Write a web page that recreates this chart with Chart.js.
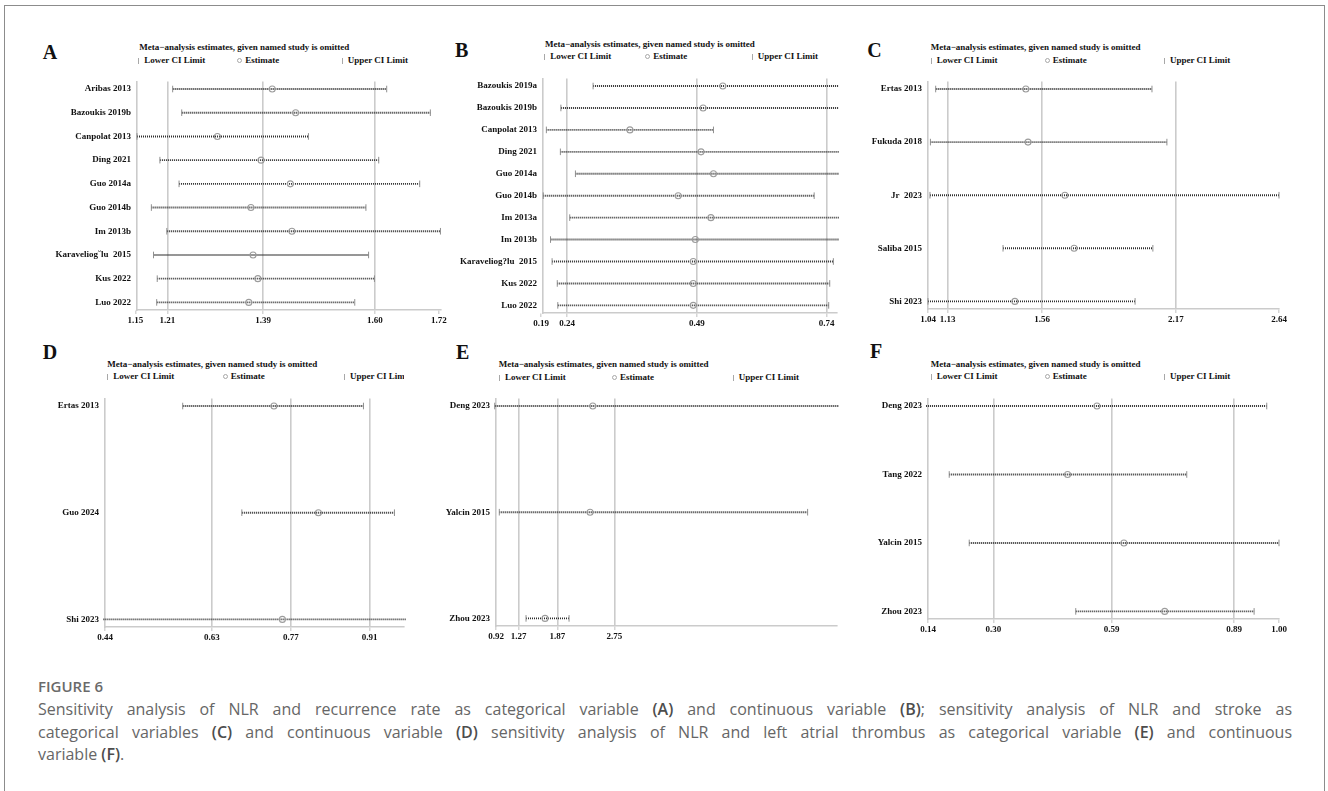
<!DOCTYPE html>
<html lang="en">
<head>
<meta charset="UTF-8">
<title>Figure 6 - sensitivity analysis</title>
<script src="https://cdn.jsdelivr.net/npm/chart.js"></script>
<style>
  body { margin:0; width:1328px; height:791px; background:#fff; position:relative; overflow:hidden;
         font-family:"Liberation Serif","Times New Roman",serif; color:#111; }
  .frame { position:absolute; left:4px; top:5px; width:1321px; height:800px; border:1px solid #8c8c8c; border-bottom:none; box-sizing:border-box; }
  .abs { position:absolute; white-space:nowrap; }
  .letter { font-weight:bold; font-size:20px; line-height:20px; }
  .title { font-weight:bold; font-size:9px; line-height:11px; }
  .legend { font-weight:bold; font-size:9px; line-height:11px; height:11px; overflow:hidden; }
  .legend .item { position:absolute; top:0; white-space:nowrap; }
  .sym-cap { display:inline-block; width:1px; height:6px; background:#a8a8a8; margin-right:5px; vertical-align:-1px; }
  .sym-dot { display:inline-block; width:3px; height:3px; border:1px solid #a8a8a8; border-radius:50%; margin-right:3px; vertical-align:0; }
  canvas { position:absolute; }
  .figno { position:absolute; left:38px; top:677px; font:600 15px/18px "Open Sans",sans-serif; color:#6a6a6a; }
  .cap-line { position:absolute; left:38px; width:1254px; font:16px/22px "Open Sans",sans-serif; color:#666; }
  .just { text-align:justify; text-align-last:justify; }
  .cap-line b { font-weight:600; color:#4d4d4d; }
</style>
</head>
<body>
<div class="frame"></div>

<div class="figno">FIGURE 6</div>
<div class="cap-line just" style="top:698px">Sensitivity analysis of NLR and recurrence rate as categorical variable <b>(A)</b> and continuous variable <b>(B)</b>; sensitivity analysis of NLR and stroke as</div>
<div class="cap-line just" style="top:721px">categorical variables <b>(C)</b> and continuous variable <b>(D)</b> sensitivity analysis of NLR and left atrial thrombus as categorical variable <b>(E)</b> and continuous</div>
<div class="cap-line" style="top:743px">variable <b>(F)</b>.</div>

<script>
// ---- A: recurrence, categorical ----
const studiesA = ['Aribas 2013', 'Bazoukis 2019b', 'Canpolat 2013', 'Ding 2021', 'Guo 2014a', 'Guo 2014b',
                  'Im 2013b', 'Karaveliog\u02D8lu  2015', 'Kus 2022', 'Luo 2022'];
const lowerA = [1.220, 1.237, 1.153, 1.196, 1.232, 1.180, 1.209, 1.184, 1.191, 1.190];
const estA   = [1.407, 1.451, 1.304, 1.386, 1.441, 1.367, 1.444, 1.371, 1.380, 1.363];
const upperA = [1.622, 1.704, 1.475, 1.607, 1.684, 1.583, 1.723, 1.588, 1.599, 1.562];
const ticksA = [1.15, 1.21, 1.39, 1.60, 1.72];
const linesA = [1.21, 1.39, 1.60];
const rangeA = [1.153, 1.724];

// ---- B: recurrence, continuous ----
const studiesB = ['Bazoukis 2019a', 'Bazoukis 2019b', 'Canpolat 2013', 'Ding 2021', 'Guo 2014a', 'Guo 2014b',
                  'Im 2013a', 'Im 2013b', 'Karaveliog?lu  2015', 'Kus 2022', 'Luo 2022'];
const lowerB = [0.290, 0.228, 0.200, 0.227, 0.256, 0.194, 0.245, 0.208, 0.211, 0.221, 0.222];
const estB   = [0.540, 0.502, 0.361, 0.498, 0.522, 0.454, 0.517, 0.487, 0.483, 0.483, 0.483];
const upperB = [0.800, 0.800, 0.522, 0.800, 0.800, 0.716, 0.800, 0.800, 0.753, 0.746, 0.744];
const ticksB = [0.19, 0.24, 0.49, 0.74];
const linesB = [0.24, 0.49, 0.74];
const rangeB = [0.1935, 0.760];

// ---- C: stroke, categorical ----
const studiesC = ['Ertas 2013', 'Fukuda 2018', 'Jr  2023', 'Saliba 2015', 'Shi 2023'];
const lowerC = [1.075, 1.051, 1.049, 1.382, 1.040];
const estC   = [1.486, 1.496, 1.664, 1.706, 1.436];
const upperC = [2.061, 2.129, 2.640, 2.065, 1.984];
const ticksC = [1.04, 1.13, 1.56, 2.17, 2.64];
const linesC = [1.13, 1.56, 2.17];
const rangeC = [1.04, 2.64];

// ---- D: stroke, continuous ----
const studiesD = ['Ertas 2013', 'Guo 2024', 'Shi 2023'];
const lowerD = [0.578, 0.683, 0.430];
const estD   = [0.740, 0.819, 0.755];
const upperD = [0.899, 0.954, 1.000];
const ticksD = [0.44, 0.63, 0.77, 0.91];
const linesD = [0.63, 0.77, 0.91];
const rangeD = [0.44, 0.971];

// ---- E: left atrial thrombus, categorical ----
const studiesE = ['Deng 2023', 'Yalcin 2015', 'Zhou 2023'];
const lowerE = [0.90, 0.971, 1.384];
const estE   = [2.416, 2.374, 1.678];
const upperE = [6.50, 5.736, 2.049];
const ticksE = [0.92, 1.27, 1.87, 2.75];
const linesE = [1.27, 1.87, 2.75];
const rangeE = [0.92, 6.19];

// ---- F: left atrial thrombus, continuous ----
const studiesF = ['Deng 2023', 'Tang 2022', 'Yalcin 2015', 'Zhou 2023'];
const lowerF = [0.130, 0.192, 0.241, 0.502];
const estF   = [0.554, 0.482, 0.620, 0.720];
const upperF = [0.970, 0.774, 1.000, 0.939];
const ticksF = [0.14, 0.30, 0.59, 0.89, 1.00];
const linesF = [0.30, 0.59, 0.89];
const rangeF = [0.14, 1.00];

const legendText = ['Lower CI Limit', 'Estimate', 'Upper CI Limit'];
const headerText = 'Meta\u2212analysis estimates, given named study is omitted';

// placement of each panel on the page: plot [left, right, top, bottom]
const panels = [
  { id: 'A', studies: studiesA, lower: lowerA, est: estA, upper: upperA, ticks: ticksA, lines: linesA, range: rangeA,
    plot: [137, 441, 70, 310], letter: [42.7, 45], title: [139.3, 47.3], legend: [138.3, 60, [0, 99, 203.4]] },
  { id: 'B', studies: studiesB, lower: lowerB, est: estB, upper: upperB, ticks: ticksB, lines: linesB, range: rangeB,
    plot: [543, 837, 67, 313], letter: [455, 43.3], title: [545, 44], legend: [544.3, 56.7, [0, 101, 207.4]] },
  { id: 'C', studies: studiesC, lower: lowerC, est: estC, upper: upperC, ticks: ticksC, lines: linesC, range: rangeC,
    plot: [928, 1279, 70, 309], letter: [867.3, 43.3], title: [930.7, 47.3], legend: [930.7, 60, [0, 114, 233.3]] },
  { id: 'D', studies: studiesD, lower: lowerD, est: estD, upper: upperD, ticks: ticksD, lines: linesD, range: rangeD,
    plot: [105, 404, 387, 627], letter: [42.7, 345], title: [107.3, 364.7], legend: [107.3, 376.7, [0, 115.5, 236.7]] },
  { id: 'E', studies: studiesE, lower: lowerE, est: estE, upper: upperE, ticks: ticksE, lines: linesE, range: rangeE,
    plot: [496, 837, 387, 626], letter: [456, 345], title: [498.7, 364.7], legend: [499, 377, [0, 113, 233.7]] },
  { id: 'F', studies: studiesF, lower: lowerF, est: estF, upper: upperF, ticks: ticksF, lines: linesF, range: rangeF,
    plot: [928, 1279, 387, 619], letter: [870, 344], title: [930.7, 364], legend: [930.7, 376.7, [0, 114, 233.3]] }
];

const LABEL_W = 100;   // room for study names left of the plot
const PAD_R = 14;      // room for the last tick label
const AXIS_H = 22;     // x axis height under the plot
const GRID = '#cbcbcb';
const ROW_PAD = 8;     // px between plot edge and first / last row

Chart.defaults.font.family = '"Liberation Serif", "Times New Roman", serif';
Chart.defaults.font.size = 9;
Chart.defaults.font.weight = 'bold';
Chart.defaults.color = '#111';

function addDiv(cls, left, top, html) {
  const d = document.createElement('div');
  d.className = 'abs ' + cls;
  d.style.left = left + 'px';
  d.style.top = top + 'px';
  d.innerHTML = html;
  document.body.appendChild(d);
  return d;
}

function buildPanel(p) {
  const [pl, pr, pt, pb] = p.plot;
  const n = p.studies.length;

  // letter, header and legend
  addDiv('letter', p.letter[0], p.letter[1] - 3.5, p.id);
  addDiv('title', p.title[0], p.title[1] - 5.5, headerText);
  const lg = addDiv('legend', p.legend[0], p.legend[1] - 5.5, '');
  lg.style.width = (pr - p.legend[0]) + 'px';
  legendText.forEach((t, i) => {
    const it = document.createElement('span');
    it.className = 'item';
    it.style.left = p.legend[2][i] + 'px';
    it.innerHTML = '<span class="' + (i === 1 ? 'sym-dot' : 'sym-cap') + '"></span>' + t;
    lg.appendChild(it);
  });

  // canvas
  const canvas = document.createElement('canvas');
  const w = LABEL_W + (pr - pl) + PAD_R;
  const h = (pb - pt) + AXIS_H;
  canvas.width = w; canvas.height = h;
  canvas.style.width = w + 'px'; canvas.style.height = h + 'px';
  canvas.style.left = (pl - LABEL_W) + 'px';
  canvas.style.top = pt + 'px';
  document.body.appendChild(canvas);

  const step = ((pb - pt) - 2 * ROW_PAD) / (n - 1);
  const segs = [], caps = [], ests = [];
  p.studies.forEach((s, i) => {
    segs.push({ x: p.lower[i], y: i }, { x: p.upper[i], y: i }, { x: null, y: null });
    caps.push({ x: p.lower[i], y: i }, { x: p.upper[i], y: i });
    ests.push({ x: p.est[i], y: i });
  });
  const clip = { left: 2, right: 2, top: 10, bottom: 10 };

  new Chart(canvas, {
    type: 'scatter',
    data: {
      datasets: [
        { data: ests, pointStyle: 'circle', pointRadius: 3, borderColor: '#9c9c9c',
          backgroundColor: 'rgba(255,255,255,0)', borderWidth: 1.1, clip: clip, order: 0 },
        { data: caps, pointStyle: 'line', rotation: 90, pointRadius: 3.3, borderColor: '#8f8f8f',
          borderWidth: 1, clip: clip, order: 1 },
        { type: 'line', data: segs, borderColor: '#2e2e2e', borderWidth: 1.9, borderDash: [1, 1],
          pointRadius: 0, spanGaps: false, clip: clip, order: 2 }
      ]
    },
    options: {
      responsive: false,
      animation: false,
      devicePixelRatio: 1,
      events: [],
      layout: { padding: { left: 0, right: PAD_R, top: 0, bottom: 0 }, autoPadding: false },
      plugins: { legend: { display: false }, tooltip: { enabled: false } },
      scales: {
        x: {
          type: 'linear', min: p.range[0], max: p.range[1],
          afterBuildTicks: s => { s.ticks = p.ticks.map(v => ({ value: v })); },
          afterFit: s => { s.height = AXIS_H; },
          ticks: { callback: v => Number(v).toFixed(2), padding: 1, maxRotation: 0, autoSkip: false },
          grid: {
            color: c => (c.tick && p.lines.includes(c.tick.value)) ? GRID : 'rgba(0,0,0,0)',
            lineWidth: 1.6, tickLength: 4, tickColor: GRID, tickWidth: 1.2
          },
          border: { color: GRID, width: 1.6 }
        },
        y: {
          type: 'linear', reverse: true, min: -ROW_PAD / step, max: n - 1 + ROW_PAD / step,
          afterBuildTicks: s => { s.ticks = p.studies.map((_, i) => ({ value: i })); },
          afterFit: s => { s.width = LABEL_W; },
          ticks: { callback: v => p.studies[v], padding: 6, autoSkip: false },
          grid: { display: false, drawTicks: false },
          border: { color: GRID, width: 1.6 }
        }
      }
    }
  });
}

panels.forEach(buildPanel);
</script>
</body>
</html>
